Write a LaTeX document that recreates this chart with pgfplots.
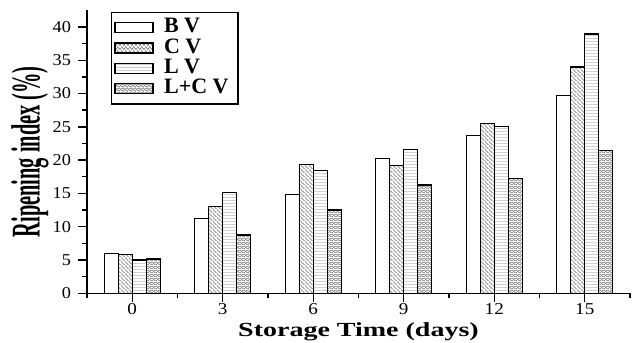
\documentclass[border=0pt]{standalone}
\usepackage{fontspec}
\setmainfont{Liberation Serif}
\usepackage{pgfplots}
\usepackage{pgfplotstable}
\pgfplotsset{compat=1.18}
\usetikzlibrary{patterns}

\pgfdeclarepatterninherentlycolored{hlgray}{\pgfpointorigin}{\pgfqpoint{2pt}{1.6pt}}{\pgfqpoint{2pt}{1.6pt}}{%
  \pgfsetcolor{black!28}\pgfsetlinewidth{0.3pt}%
  \pgfpathmoveto{\pgfqpoint{-0.1pt}{0.8pt}}\pgfpathlineto{\pgfqpoint{2.1pt}{0.8pt}}\pgfusepath{stroke}%
}
\pgfdeclarepatterninherentlycolored{nwgray}{\pgfpointorigin}{\pgfqpoint{2.1pt}{2.1pt}}{\pgfqpoint{2.1pt}{2.1pt}}{%
  \pgfsetcolor{black!60}\pgfsetlinewidth{0.35pt}%
  \pgfpathmoveto{\pgfqpoint{-0.3pt}{2.4pt}}\pgfpathlineto{\pgfqpoint{2.4pt}{-0.3pt}}%
  \pgfpathmoveto{\pgfqpoint{-0.3pt}{0.3pt}}\pgfpathlineto{\pgfqpoint{0.3pt}{-0.3pt}}%
  \pgfpathmoveto{\pgfqpoint{1.8pt}{2.4pt}}\pgfpathlineto{\pgfqpoint{2.4pt}{1.8pt}}%
  \pgfusepath{stroke}%
}
\pgfdeclarepatterninherentlycolored{xgray}{\pgfpointorigin}{\pgfqpoint{1.8pt}{1.8pt}}{\pgfqpoint{1.8pt}{1.8pt}}{%
  \pgfsetcolor{black!50}\pgfsetlinewidth{0.3pt}%
  \pgfpathmoveto{\pgfqpoint{-0.2pt}{-0.2pt}}\pgfpathlineto{\pgfqpoint{2pt}{2pt}}%
  \pgfpathmoveto{\pgfqpoint{-0.2pt}{2pt}}\pgfpathlineto{\pgfqpoint{2pt}{-0.2pt}}%
  \pgfusepath{stroke}%
}

\pgfplotstableread{
x B C L LC
0 6.0 5.8 5.0 5.15
3 11.25 13.0 15.1 8.75
6 14.85 19.3 18.45 12.5
9 20.25 19.2 21.6 16.25
12 23.7 25.45 25.1 17.25
15 29.75 34.0 38.95 21.4
}\datatable

\begin{document}
\begin{tikzpicture}
\useasboundingbox (-43.5pt,-24.85pt) rectangle (275.5pt,146.65pt);
\begin{axis}[
  scale only axis,
  width=271.5pt, height=141.5pt,
  xmin=-1.5, xmax=16.5,
  ymin=0, ymax=42.5,
  axis x line*=bottom,
  axis y line*=left,
  axis line style={line width=0.8pt, black},
  xtick={0,3,6,9,12,15},
  minor xtick={-1.5,1.5,4.5,7.5,10.5,13.5,16.5},
  ytick={0,5,10,15,20,25,30,35,40},
  minor y tick num=1,
  tick align=outside,
  major tick length=4.5pt,
  minor tick length=2.5pt,
  every tick/.style={black, line width=0.7pt},
  /pgf/number format/assume math mode=true,
  tick label style={font=\fontsize{8.3}{9}\selectfont},
  yticklabel={\scalebox{1.1}[1]{\pgfmathprintnumber{\tick}}},
  xticklabel={\scalebox{1.15}[1]{\pgfmathprintnumber{\tick}}},
  xticklabel style={yshift=3pt},
  xlabel={\scalebox{1.4}[1]{Storage Time (days)}},
  xlabel style={font=\fontsize{10}{12}\selectfont\bfseries, at={(axis description cs:0.5,0)}, anchor=base, yshift=-21.8pt},
  ylabel={\scalebox{1}[2.0]{Ripening index (\%)}},
  ylabel style={font=\fontsize{10.2}{12}\selectfont\bfseries, at={(axis description cs:-0.105,0.5)}, anchor=center},
  ybar=0pt,
  bar width=7pt,
  legend image code/.code={\draw[#1] (0pt,-2.5pt) rectangle (19pt,2.5pt);},
  legend cell align=left,
  legend style={at={(axis description cs:0.044,0.995)}, anchor=north west,
    draw=black, line width=0.6pt, font=\fontsize{11}{12}\selectfont\bfseries,
    inner xsep=1.5pt, inner ysep=2.5pt, row sep=0pt, column sep=2pt,
    nodes={inner ysep=0.5pt, inner xsep=3.2pt, text height=7.2pt, text depth=2pt}},
]
\addplot[draw=black, line width=0.6pt, fill=white] table[x=x, y=B] {\datatable};
\addplot[draw=black, line width=0.6pt, pattern=nwgray] table[x=x, y=C] {\datatable};
\addplot[draw=black, line width=0.6pt, pattern=hlgray] table[x=x, y=L] {\datatable};
\addplot[draw=black, line width=0.6pt, pattern=xgray] table[x=x, y=LC] {\datatable};
\legend{B V, C V, L V, L+C V}
\end{axis}
\end{tikzpicture}
\end{document}
